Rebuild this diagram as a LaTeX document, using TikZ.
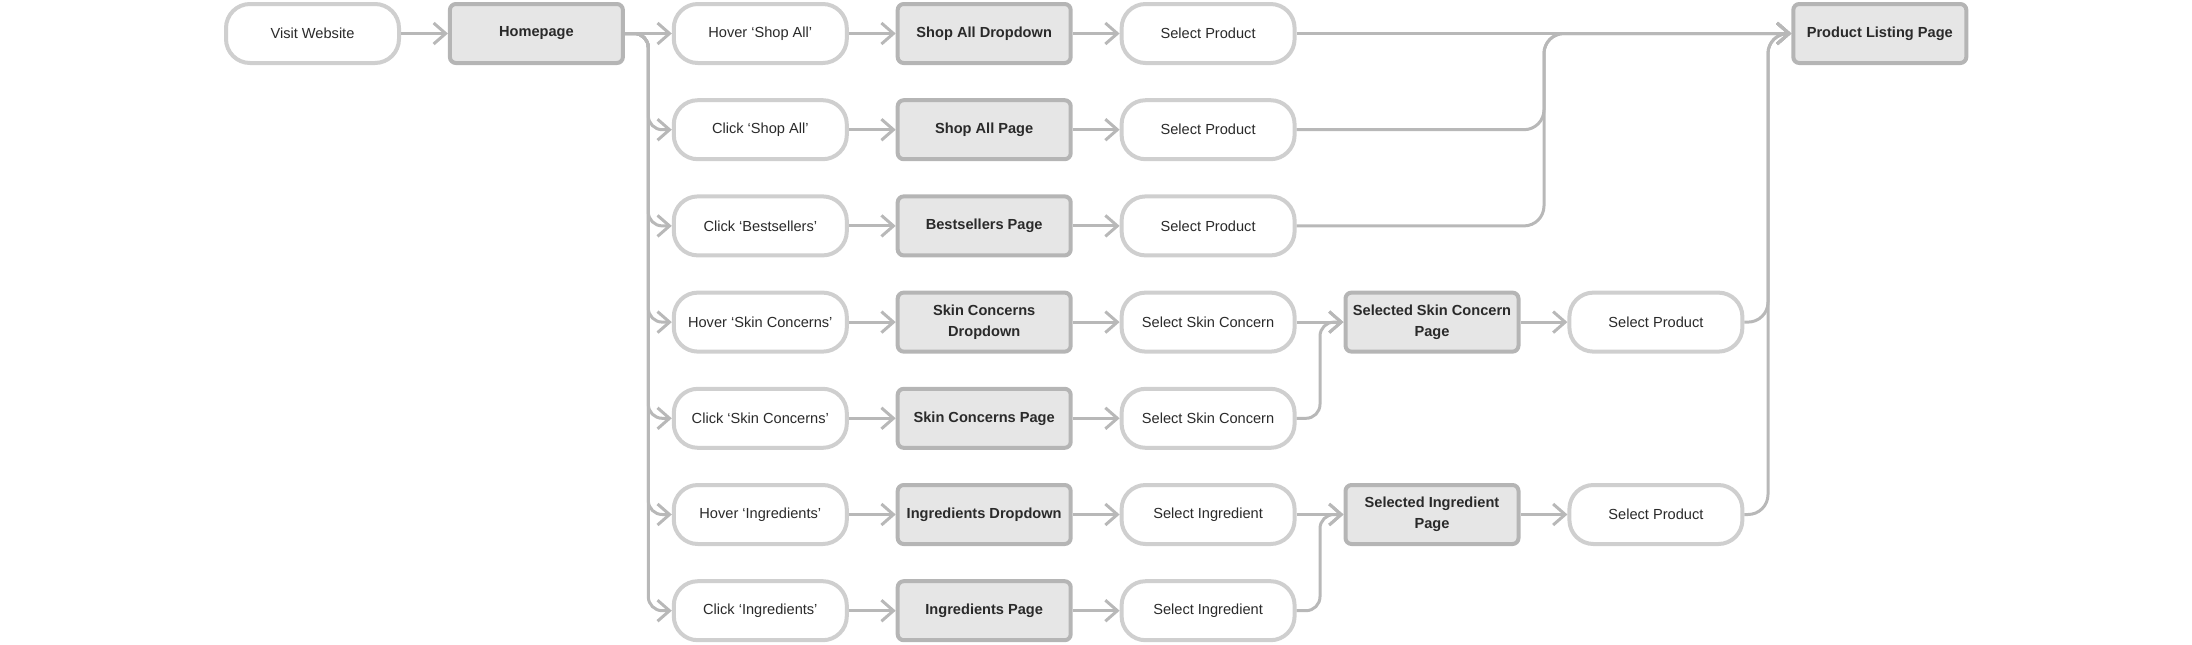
\documentclass[tikz,border=0pt]{standalone}
\usepackage{fontspec}
\setmainfont{Liberation Sans}
\usepackage{tikz}
\usepackage{xcolor}
\usetikzlibrary{arrows.meta}

\definecolor{actionline}{HTML}{CFCFCF}
\definecolor{pageline}{HTML}{B5B5B5}
\definecolor{pagefill}{HTML}{E6E6E6}
\definecolor{flowgray}{HTML}{B8B8B8}
\definecolor{textgray}{HTML}{2A2A2A}

\begin{document}
\begin{tikzpicture}[
            x=0.5pt, y=-0.5pt,
            action/.style={rectangle, rounded corners=12pt, draw=actionline, fill=white,
                line width=2pt, minimum width=86.5pt, minimum height=29.5pt,
                font=\fontsize{7.3}{10.5}\selectfont, text=textgray, align=center},
            page/.style={rectangle, rounded corners=3pt, draw=pageline, fill=pagefill,
                line width=2pt, minimum width=86.5pt, minimum height=29.5pt,
                font=\fontsize{7.3}{10.5}\selectfont\bfseries, text=textgray, align=center},
            flow/.style={draw=flowgray, line width=1.5pt, rounded corners=7pt,
                -{Straight Barb[length=6pt, width=10.5pt]}},
        ]
            \useasboundingbox (0,0) rectangle (2192,644);

            % row 1
            \node[action] (visit) at (312.5,33.5) {Visit Website};
            \node[page] (home) at (536.4,33.5) {Homepage};
            \node[action] (hovshop) at (760.3,33.5) {Hover ‘Shop All’};
            \node[page] (shopdrop) at (984.2,33.5) {Shop All Dropdown};
            \node[action] (prodA) at (1208.1,33.5) {Select Product};
            \node[page] (listing) at (1879.8,33.5) {Product Listing Page};

            % row 2
            \node[action] (clkshop) at (760.3,129.7) {Click ‘Shop All’};
            \node[page] (shoppage) at (984.2,129.7) {Shop All Page};
            \node[action] (prodB) at (1208.1,129.7) {Select Product};

            % row 3
            \node[action] (clkbest) at (760.3,225.9) {Click ‘Bestsellers’};
            \node[page] (bestpage) at (984.2,225.9) {Bestsellers Page};
            \node[action] (prodC) at (1208.1,225.9) {Select Product};

            % row 4
            \node[action] (hovskin) at (760.3,322.1) {Hover ‘Skin Concerns’};
            \node[page] (skindrop) at (984.2,322.1) {Skin Concerns\\Dropdown};
            \node[action] (pickskinA) at (1208.1,322.1) {Select Skin Concern};
            \node[page] (skinpage) at (1432,322.1) {Selected Skin Concern\\Page};
            \node[action] (prodD) at (1655.9,322.1) {Select Product};

            % row 5
            \node[action] (clkskin) at (760.3,418.3) {Click ‘Skin Concerns’};
            \node[page] (skinall) at (984.2,418.3) {Skin Concerns Page};
            \node[action] (pickskinB) at (1208.1,418.3) {Select Skin Concern};

            % row 6
            \node[action] (hoving) at (760.3,514.5) {Hover ‘Ingredients’};
            \node[page] (ingdrop) at (984.2,514.5) {Ingredients Dropdown};
            \node[action] (pickingA) at (1208.1,514.5) {Select Ingredient};
            \node[page] (ingpage) at (1432,514.5) {Selected Ingredient\\Page};
            \node[action] (prodE) at (1655.9,514.5) {Select Product};

            % row 7
            \node[action] (clking) at (760.3,610.7) {Click ‘Ingredients’};
            \node[page] (ingall) at (984.2,610.7) {Ingredients Page};
            \node[action] (pickingB) at (1208.1,610.7) {Select Ingredient};

            % split and join points
            \coordinate (split) at (648.3,33.5);
            \coordinate (joinA) at (1544,33.5);
            \coordinate (joinS) at (1320,322.1);
            \coordinate (joinI) at (1320,514.5);
            \coordinate (joinP) at (1768,33.5);

            \draw[flow] (visit) -- (home);
            \draw[flow] (home) -- (hovshop);
            \foreach \n in {clkshop, clkbest, hovskin, clkskin, hoving, clking}
                \draw[flow] (home.east) -- (split) |- (\n.west);

            \draw[flow] (hovshop) -- (shopdrop);
            \draw[flow] (shopdrop) -- (prodA);
            \draw[flow] (clkshop) -- (shoppage);
            \draw[flow] (shoppage) -- (prodB);
            \draw[flow] (clkbest) -- (bestpage);
            \draw[flow] (bestpage) -- (prodC);
            \draw[flow] (hovskin) -- (skindrop);
            \draw[flow] (skindrop) -- (pickskinA);
            \draw[flow] (clkskin) -- (skinall);
            \draw[flow] (skinall) -- (pickskinB);
            \draw[flow] (hoving) -- (ingdrop);
            \draw[flow] (ingdrop) -- (pickingA);
            \draw[flow] (clking) -- (ingall);
            \draw[flow] (ingall) -- (pickingB);

            \draw[flow] (pickskinA) -- (skinpage);
            \draw[flow] (pickskinB.east) -| (joinS) -- (skinpage.west);
            \draw[flow] (pickingA) -- (ingpage);
            \draw[flow] (pickingB.east) -| (joinI) -- (ingpage.west);
            \draw[flow] (skinpage) -- (prodD);
            \draw[flow] (ingpage) -- (prodE);

            \draw[flow] (prodA) -- (listing);
            \draw[flow, rounded corners=10pt] (prodB.east) -| (joinA) -- (listing.west);
            \draw[flow, rounded corners=10pt] (prodC.east) -| (joinA) -- (listing.west);
            \draw[flow, rounded corners=10pt] (prodD.east) -| (joinP) -- (listing.west);
            \draw[flow, rounded corners=10pt] (prodE.east) -| (joinP) -- (listing.west);
        \end{tikzpicture}
\end{document}
